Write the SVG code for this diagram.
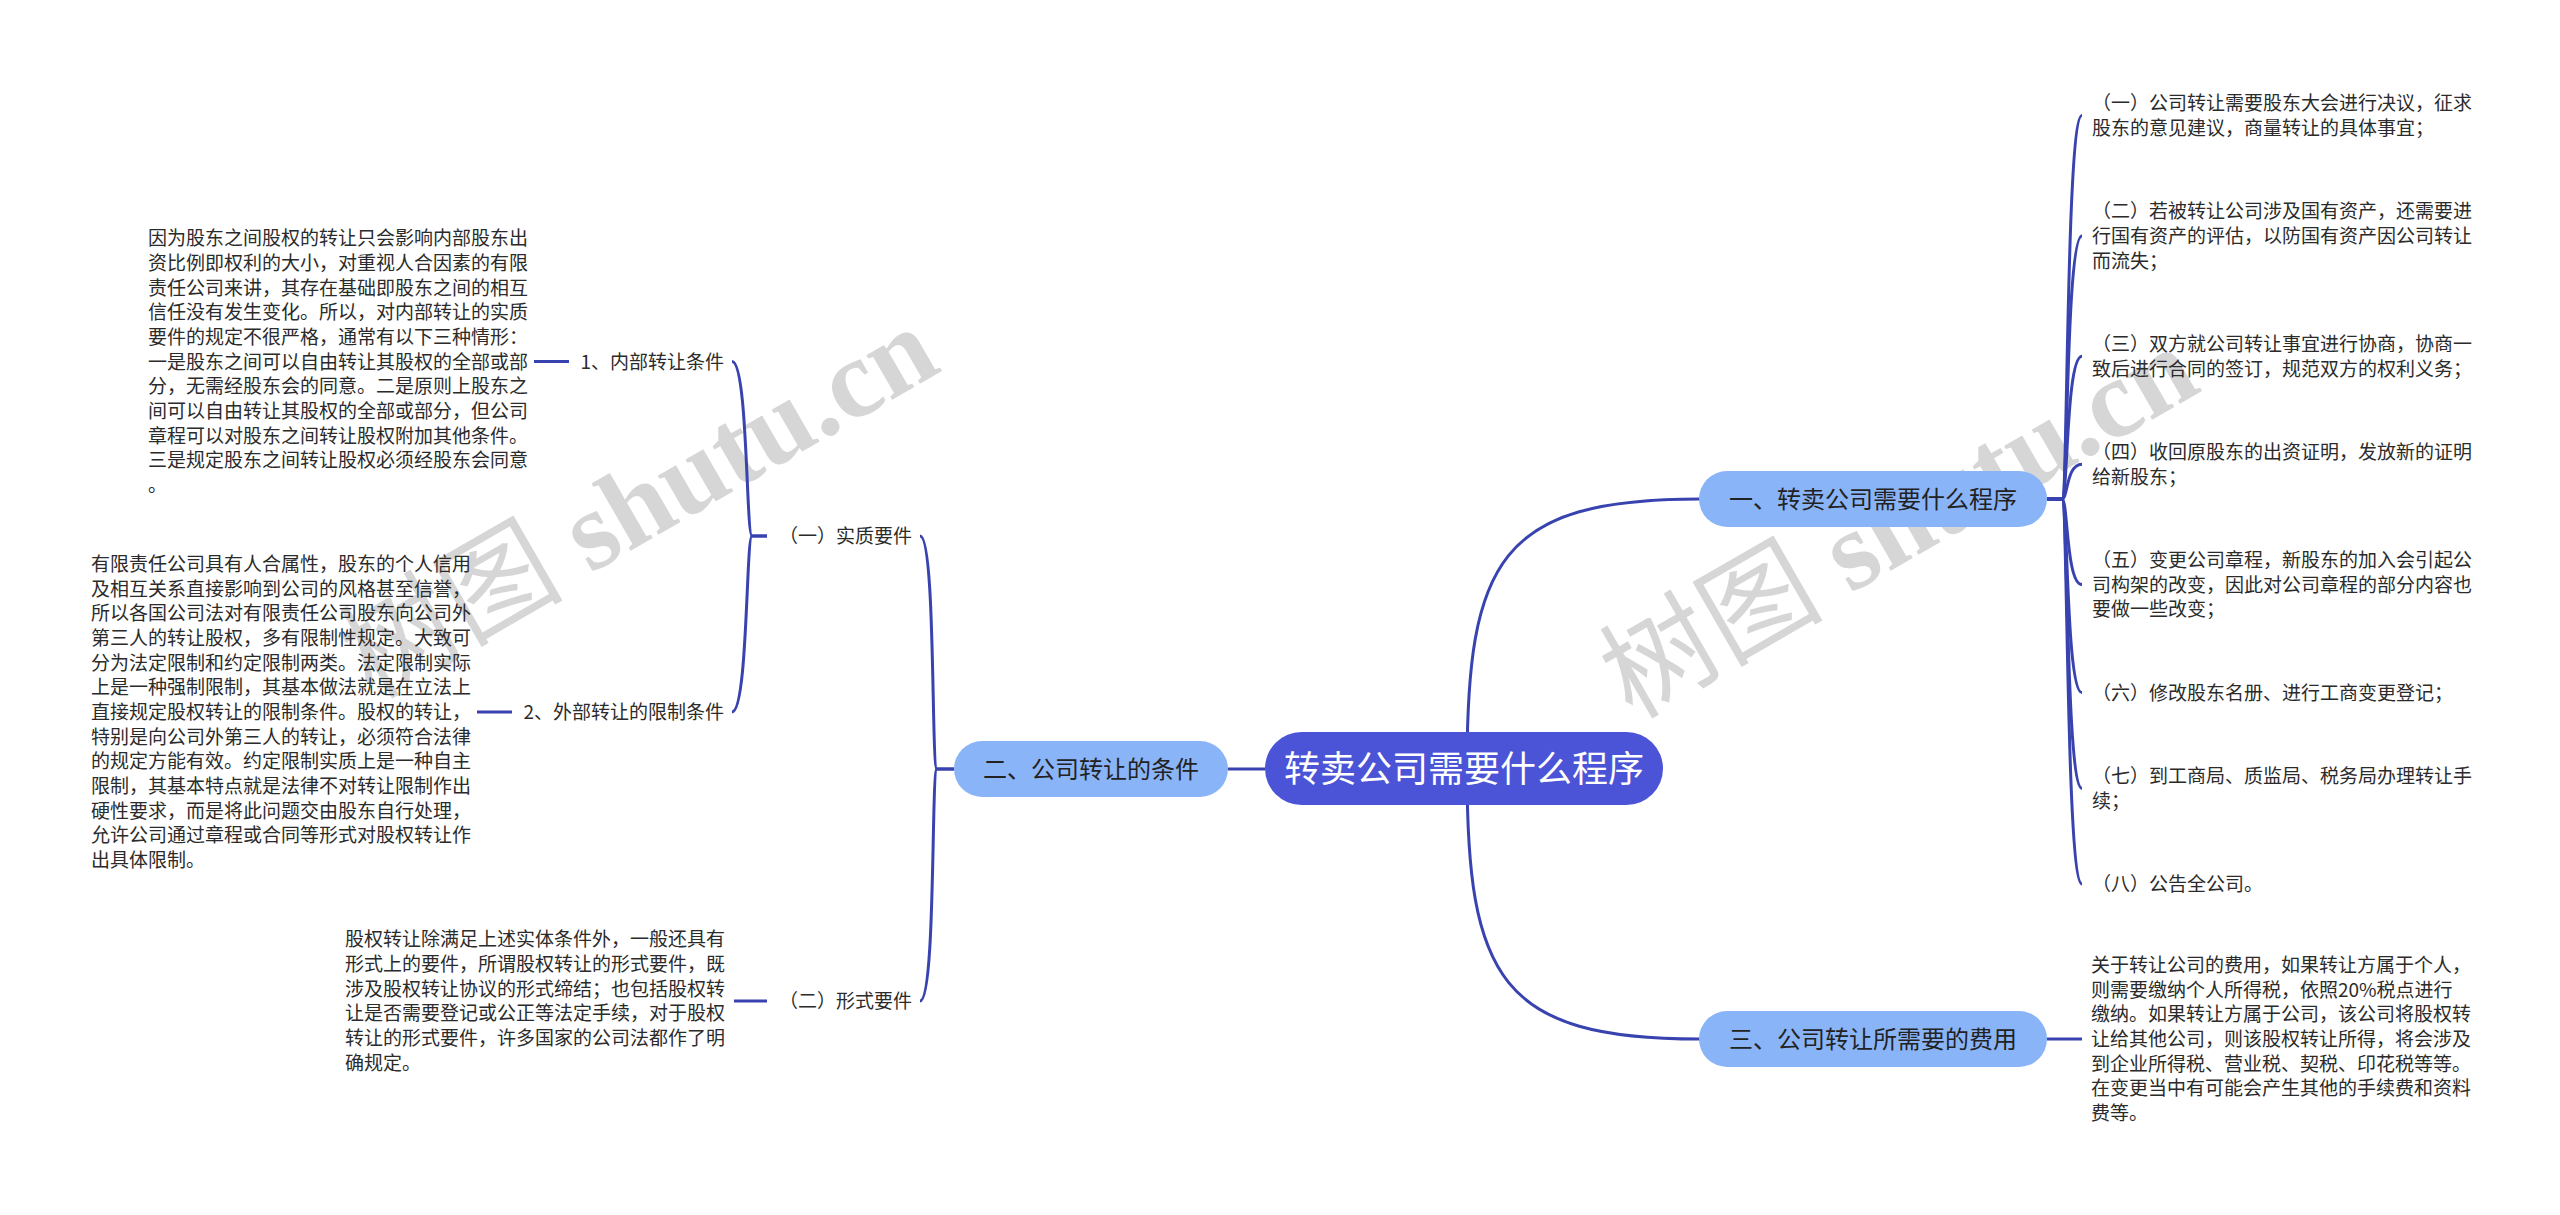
<svg xmlns="http://www.w3.org/2000/svg" width="2560" height="1215" viewBox="0 0 2560 1215">
<style>
.t{font-family:"Noto Sans CJK SC","Noto Sans",sans-serif;font-size:19px;fill:#2b2b2b}
.e{text-anchor:end}
.n2{font-family:"Noto Sans CJK SC","Noto Sans",sans-serif;font-size:24px;fill:#222;text-anchor:middle}
.root{font-family:"Noto Sans CJK SC","Noto Sans",sans-serif;font-size:36px;fill:#fff;text-anchor:middle}
.c{fill:none;stroke:#3843b0;stroke-width:3}
.sub{fill:#8ab4f8}
.wm{font-family:"Liberation Serif","Noto Sans CJK SC",serif;font-size:112px;fill:#d6d6d6}
.wb{font-weight:bold}
</style>
<rect width="2560" height="1215" fill="#fff"/>
<g id="watermarks">
<text class="wm" transform="translate(372 700) rotate(-30)">树图 <tspan class="wb">shutu.cn</tspan></text>
<text class="wm" transform="translate(1632 720) rotate(-30)">树图 <tspan class="wb">shutu.cn</tspan></text>
</g>
<g id="connectors">
<path class="c" d="M1265 769H1228"/>
<path class="c" d="M1467 769C1467 560 1500 499 1700 499"/>
<path class="c" d="M1467 769C1467 978 1500 1039 1700 1039"/>
<path class="c" d="M954 769H937C931 769 936 536 920 536"/>
<path class="c" d="M954 769H937C931 769 936 1001 920 1001"/>
<path class="c" d="M767 536H752C746 536 748 361.5 732 361.5"/>
<path class="c" d="M767 536H752C746 536 748 712 732 712"/>
<path class="c" d="M767 1001H734"/>
<path class="c" d="M569 361.5H534"/>
<path class="c" d="M512 712H477"/>
<path class="c" d="M2047 499H2062C2068 499 2066 115.5 2082 115.5"/>
<path class="c" d="M2047 499H2062C2068 499 2066 235.9 2082 235.9"/>
<path class="c" d="M2047 499H2062C2068 499 2066 356.2 2082 356.2"/>
<path class="c" d="M2047 499H2062C2068 499 2066 464.2 2082 464.2"/>
<path class="c" d="M2047 499H2062C2068 499 2066 584.6 2082 584.6"/>
<path class="c" d="M2047 499H2062C2068 499 2066 692.6 2082 692.6"/>
<path class="c" d="M2047 499H2062C2068 499 2066 788.3 2082 788.3"/>
<path class="c" d="M2047 499H2062C2068 499 2066 884 2082 884"/>
<path class="c" d="M2047 1039H2082"/>
</g>
<g id="root">
<rect x="1265" y="732" width="398" height="73" rx="36.5" fill="#4b54d6"/>
<text class="root" x="1464" y="782">转卖公司需要什么程序</text>
</g>
<g id="n1">
<rect class="sub" x="1699" y="471" width="348" height="56" rx="28"/>
<text class="n2" x="1873" y="508">一、转卖公司需要什么程序</text>
</g>
<g id="n2">
<rect class="sub" x="954" y="741" width="274" height="56" rx="28"/>
<text class="n2" x="1091" y="778">二、公司转让的条件</text>
</g>
<g id="n3">
<rect class="sub" x="1699" y="1011" width="348" height="56" rx="28"/>
<text class="n2" x="1873" y="1048">三、公司转让所需要的费用</text>
</g>
<g id="n1-1"><text class="t" x="2092" y="110.2"><tspan x="2092">（一）公司转让需要股东大会进行决议，征求</tspan><tspan x="2092" dy="24.67">股东的意见建议，商量转让的具体事宜；</tspan></text></g>
<g id="n1-2"><text class="t" x="2092" y="218.2"><tspan x="2092">（二）若被转让公司涉及国有资产，还需要进</tspan><tspan x="2092" dy="24.67">行国有资产的评估，以防国有资产因公司转让</tspan><tspan x="2092" dy="24.67">而流失；</tspan></text></g>
<g id="n1-3"><text class="t" x="2092" y="350.9"><tspan x="2092">（三）双方就公司转让事宜进行协商，协商一</tspan><tspan x="2092" dy="24.67">致后进行合同的签订，规范双方的权利义务；</tspan></text></g>
<g id="n1-4"><text class="t" x="2092" y="458.9"><tspan x="2092">（四）收回原股东的出资证明，发放新的证明</tspan><tspan x="2092" dy="24.67">给新股东；</tspan></text></g>
<g id="n1-5"><text class="t" x="2092" y="566.9"><tspan x="2092">（五）变更公司章程，新股东的加入会引起公</tspan><tspan x="2092" dy="24.67">司构架的改变，因此对公司章程的部分内容也</tspan><tspan x="2092" dy="24.67">要做一些改变；</tspan></text></g>
<g id="n1-6"><text class="t" x="2092" y="699.6">（六）修改股东名册、进行工商变更登记；</text></g>
<g id="n1-7"><text class="t" x="2092" y="783"><tspan x="2092">（七）到工商局、质监局、税务局办理转让手</tspan><tspan x="2092" dy="24.67">续；</tspan></text></g>
<g id="n1-8"><text class="t" x="2092" y="891">（八）公告全公司。</text></g>
<g id="n3-1"><text class="t" x="2091" y="972"><tspan x="2091">关于转让公司的费用，如果转让方属于个人，</tspan><tspan x="2091" dy="24.67">则需要缴纳个人所得税，依照20%税点进行</tspan><tspan x="2091" dy="24.67">缴纳。如果转让方属于公司，该公司将股权转</tspan><tspan x="2091" dy="24.67">让给其他公司，则该股权转让所得，将会涉及</tspan><tspan x="2091" dy="24.67">到企业所得税、营业税、契税、印花税等等。</tspan><tspan x="2091" dy="24.67">在变更当中有可能会产生其他的手续费和资料</tspan><tspan x="2091" dy="24.67">费等。</tspan></text></g>
<g id="n2-1"><text class="t" x="779" y="543">（一）实质要件</text></g>
<g id="n2-2"><text class="t" x="779" y="1008">（二）形式要件</text></g>
<g id="n2-1-1"><text class="t e" x="724" y="368.5">1、内部转让条件</text></g>
<g id="n2-1-2"><text class="t e" x="724" y="719">2、外部转让的限制条件</text></g>
<g id="n2-1-1-1"><text class="t" x="148" y="245.2"><tspan x="148">因为股东之间股权的转让只会影响内部股东出</tspan><tspan x="148" dy="24.67">资比例即权利的大小，对重视人合因素的有限</tspan><tspan x="148" dy="24.67">责任公司来讲，其存在基础即股东之间的相互</tspan><tspan x="148" dy="24.67">信任没有发生变化。所以，对内部转让的实质</tspan><tspan x="148" dy="24.67">要件的规定不很严格，通常有以下三种情形：</tspan><tspan x="148" dy="24.67">一是股东之间可以自由转让其股权的全部或部</tspan><tspan x="148" dy="24.67">分，无需经股东会的同意。二是原则上股东之</tspan><tspan x="148" dy="24.67">间可以自由转让其股权的全部或部分，但公司</tspan><tspan x="148" dy="24.67">章程可以对股东之间转让股权附加其他条件。</tspan><tspan x="148" dy="24.67">三是规定股东之间转让股权必须经股东会同意</tspan><tspan x="148" dy="24.67">。</tspan></text></g>
<g id="n2-1-2-1"><text class="t" x="91" y="571"><tspan x="91">有限责任公司具有人合属性，股东的个人信用</tspan><tspan x="91" dy="24.67">及相互关系直接影响到公司的风格甚至信誉，</tspan><tspan x="91" dy="24.67">所以各国公司法对有限责任公司股东向公司外</tspan><tspan x="91" dy="24.67">第三人的转让股权，多有限制性规定。大致可</tspan><tspan x="91" dy="24.67">分为法定限制和约定限制两类。法定限制实际</tspan><tspan x="91" dy="24.67">上是一种强制限制，其基本做法就是在立法上</tspan><tspan x="91" dy="24.67">直接规定股权转让的限制条件。股权的转让，</tspan><tspan x="91" dy="24.67">特别是向公司外第三人的转让，必须符合法律</tspan><tspan x="91" dy="24.67">的规定方能有效。约定限制实质上是一种自主</tspan><tspan x="91" dy="24.67">限制，其基本特点就是法律不对转让限制作出</tspan><tspan x="91" dy="24.67">硬性要求，而是将此问题交由股东自行处理，</tspan><tspan x="91" dy="24.67">允许公司通过章程或合同等形式对股权转让作</tspan><tspan x="91" dy="24.67">出具体限制。</tspan></text></g>
<g id="n2-2-1"><text class="t" x="345" y="946.3"><tspan x="345">股权转让除满足上述实体条件外，一般还具有</tspan><tspan x="345" dy="24.67">形式上的要件，所谓股权转让的形式要件，既</tspan><tspan x="345" dy="24.67">涉及股权转让协议的形式缔结；也包括股权转</tspan><tspan x="345" dy="24.67">让是否需要登记或公正等法定手续，对于股权</tspan><tspan x="345" dy="24.67">转让的形式要件，许多国家的公司法都作了明</tspan><tspan x="345" dy="24.67">确规定。</tspan></text></g>
</svg>
